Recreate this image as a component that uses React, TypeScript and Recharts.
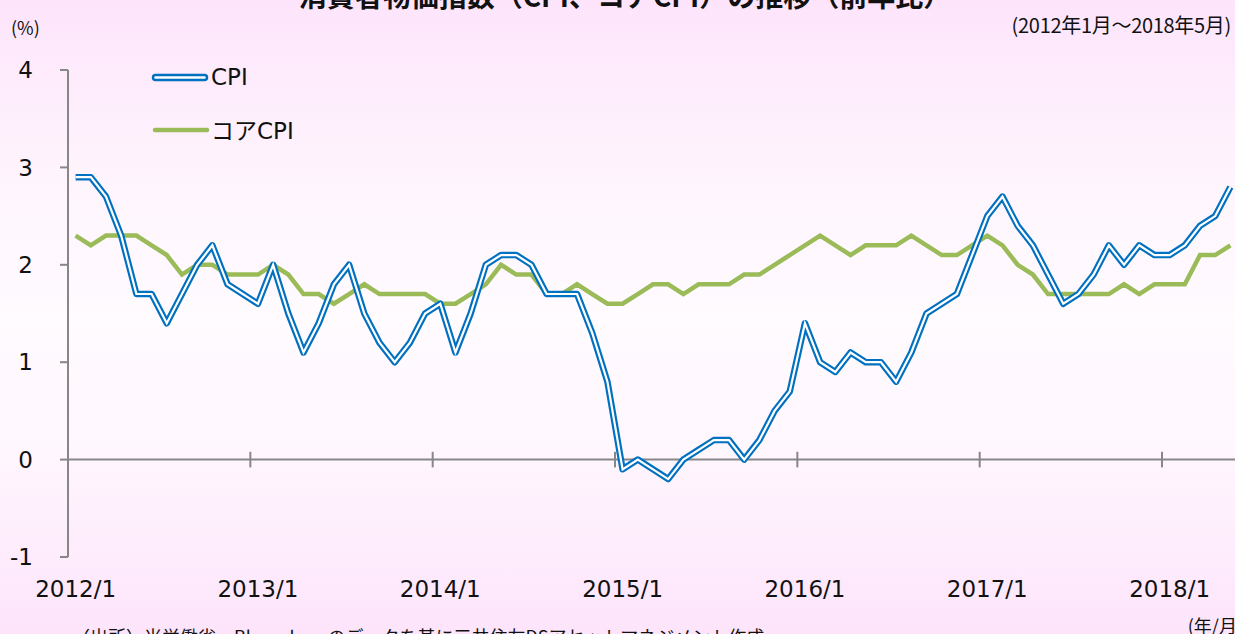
import { LineChart, Line, XAxis, YAxis, ReferenceLine } from "recharts";

// US CPI y/y (%), 2012/1 - 2018/5
const cpi = [
  2.9, 2.9, 2.7, 2.3, 1.7, 1.7, 1.4, 1.7, 2.0, 2.2, 1.8, 1.7,
  1.6, 2.0, 1.5, 1.1, 1.4, 1.8, 2.0, 1.5, 1.2, 1.0, 1.2, 1.5,
  1.6, 1.1, 1.5, 2.0, 2.1, 2.1, 2.0, 1.7, 1.7, 1.7, 1.3, 0.8,
  -0.1, 0.0, -0.1, -0.2, 0.0, 0.1, 0.2, 0.2, 0.0, 0.2, 0.5, 0.7,
  1.4, 1.0, 0.9, 1.1, 1.0, 1.0, 0.8, 1.1, 1.5, 1.6, 1.7, 2.1,
  2.5, 2.7, 2.4, 2.2, 1.9, 1.6, 1.7, 1.9, 2.2, 2.0, 2.2, 2.1,
  2.1, 2.2, 2.4, 2.5, 2.8,
];

const coreCpi = [
  2.3, 2.2, 2.3, 2.3, 2.3, 2.2, 2.1, 1.9, 2.0, 2.0, 1.9, 1.9,
  1.9, 2.0, 1.9, 1.7, 1.7, 1.6, 1.7, 1.8, 1.7, 1.7, 1.7, 1.7,
  1.6, 1.6, 1.7, 1.8, 2.0, 1.9, 1.9, 1.7, 1.7, 1.8, 1.7, 1.6,
  1.6, 1.7, 1.8, 1.8, 1.7, 1.8, 1.8, 1.8, 1.9, 1.9, 2.0, 2.1,
  2.2, 2.3, 2.2, 2.1, 2.2, 2.2, 2.2, 2.3, 2.2, 2.1, 2.1, 2.2,
  2.3, 2.2, 2.0, 1.9, 1.7, 1.7, 1.7, 1.7, 1.7, 1.8, 1.7, 1.8,
  1.8, 1.8, 2.1, 2.1, 2.2,
];

const startYear = 2012;
const months = cpi.map((_, i) => `${startYear + Math.floor(i / 12)}/${(i % 12) + 1}`);

const xTickLabels = ["2012/1", "2013/1", "2014/1", "2015/1", "2016/1", "2017/1", "2018/1"];
const yTicks = [-1, 0, 1, 2, 3, 4];
const seriesNames = ["CPI", "コアCPI"];

const data = months.map((m, i) => ({ i, month: m, cpi: cpi[i], core: coreCpi[i] }));
const xTicks = xTickLabels.map((l) => months.indexOf(l));
const yearBounds = xTicks.slice(1).map((t) => t - 0.5);

const BLUE = "#0070C0";
const GREEN = "#9BBB59";
const AXIS = "#878787";
const FONT = "'DejaVu Sans', 'Noto Sans CJK JP', sans-serif";
const JP = "'Noto Sans CJK JP', sans-serif";

const LegendBox = () => (
  <svg width={200} height={90} style={{ overflow: "visible" }}>
    <rect x={3} y={2} width={54} height={5} rx={2.5} fill="#fff" stroke={BLUE} strokeWidth={2.5} />
    <text x={61} y={12} fontSize={23} fill="#111" fontFamily={FONT}>{seriesNames[0]}</text>
    <line x1={5} x2={57} y1={57} y2={57} stroke={GREEN} strokeWidth={4.5} strokeLinecap="round" />
    <text x={61} y={66} fontSize={23} fill="#111" fontFamily={FONT}>{seriesNames[1]}</text>
  </svg>
);

export default function App() {
  return (
    <div
      style={{
        position: "absolute",
        left: 0,
        top: 0,
        width: 1235,
        height: 634,
        overflow: "hidden",
        fontFamily: FONT,
        background: "linear-gradient(to bottom, #fde4fb 0%, #fef3fd 25%, #fffbff 50%, #fff7fe 70%, #fde4fb 100%)",
      }}
    >
      <div style={{ position: "absolute", top: -25, left: 0, width: 1250, textAlign: "center", fontSize: 28, fontWeight: "bold", color: "#111", fontFamily: JP }}>
        消費者物価指数（CPI、コアCPI）の推移（前年比）
      </div>
      <div style={{ position: "absolute", top: 14, left: 11, fontSize: 18, color: "#111", fontFamily: JP }}>(%)</div>
      <div style={{ position: "absolute", top: 10, right: 4, fontSize: 20, color: "#111", fontFamily: JP, letterSpacing: -0.3 }}>
        (2012年1月～2018年5月)
      </div>
      <div style={{ position: "absolute", top: 612, right: -8, fontSize: 18, color: "#111", fontFamily: JP }}>
        (年/月)
      </div>
      <div style={{ position: "absolute", top: 623, left: 72, fontSize: 18, color: "#111", fontFamily: JP }}>
        （出所）米労働省、Bloombergのデータを基に三井住友DSアセットマネジメント作成
      </div>
      <div style={{ position: "absolute", left: 150, top: 73 }}>
        <LegendBox />
      </div>
      <LineChart width={1245} height={634} data={data} margin={{ top: 70, right: 7, bottom: 37, left: 0 }}>
        <XAxis
          dataKey="i"
          type="number"
          domain={[-0.5, cpi.length - 0.5]}
          ticks={xTicks}
          tickFormatter={(v: number) => months[v]}
          axisLine={false}
          tickLine={false}
          tickSize={0}
          tickMargin={24}
          height={40}
          tick={{ fontSize: 23, fill: "#111", fontFamily: FONT }}
        />
        <YAxis
          domain={[-1, 4]}
          ticks={yTicks}
          width={68}
          axisLine={{ stroke: AXIS, strokeWidth: 2 }}
          tickLine={{ stroke: AXIS, strokeWidth: 2 }}
          tickSize={8}
          tickMargin={27}
          tick={{ fontSize: 23, fill: "#111", fontFamily: FONT }}
        />
        <ReferenceLine y={0} stroke={AXIS} strokeWidth={2} />
        {yearBounds.map((b) => (
          <ReferenceLine
            key={b}
            segment={[{ x: b, y: -0.08 }, { x: b, y: 0.08 }]}
            stroke={AXIS}
            strokeWidth={2}
          />
        ))}
        <Line dataKey="core" name={seriesNames[1]} stroke={GREEN} strokeWidth={4.5} dot={false} isAnimationActive={false} />
        <Line dataKey="cpi" name={seriesNames[0]} stroke={BLUE} strokeWidth={6.5} dot={false} isAnimationActive={false} strokeLinejoin="round" />
        <Line dataKey="cpi" name="cpi-inner" stroke="#ffffff" strokeWidth={2.2} dot={false} isAnimationActive={false} legendType="none" />
      </LineChart>
    </div>
  );
}
